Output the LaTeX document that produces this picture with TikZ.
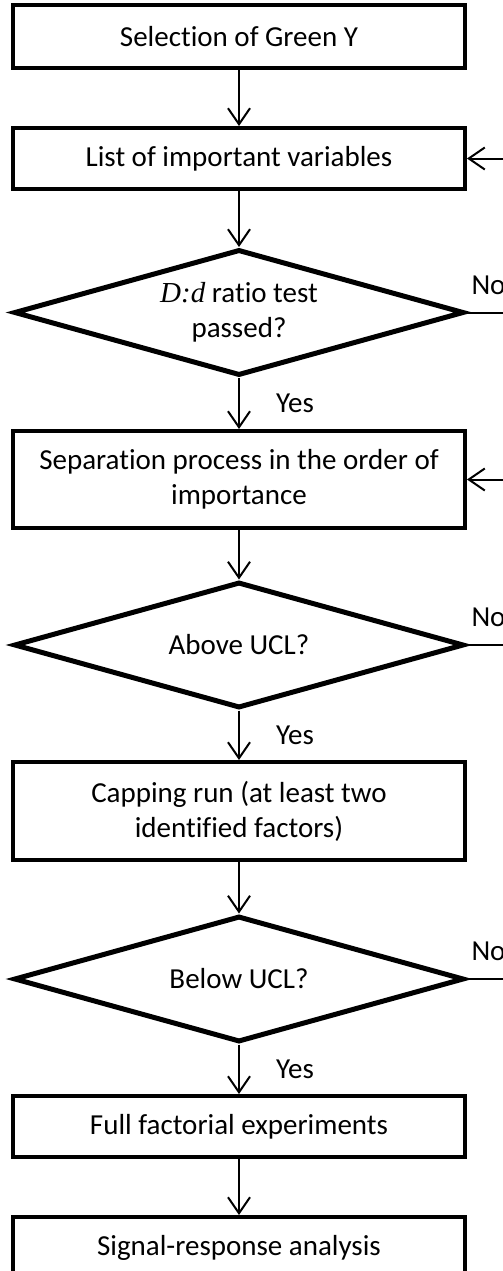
\documentclass[tikz,border=0pt]{standalone}
\usepackage{fontspec}
\setmainfont[Ligatures=NoCommon]{Carlito}
\newfontfamily\ratiofont{Liberation Serif}
\usetikzlibrary{shapes.geometric, arrows.meta, positioning}
\newcommand\flowsize{\fontsize{29}{35}\selectfont}

\begin{document}
\begin{tikzpicture}[x=1pt, y=-1pt,
    stepbox/.style={rectangle, draw, line width=4pt, minimum width=452pt, align=center, font=\flowsize},
    decision/.style={diamond, draw, line width=5pt, aspect=3.57, minimum width=450pt, minimum height=126pt, inner sep=0pt, align=center, font=\flowsize},
    flow/.style={line width=2pt, -{Straight Barb[length=16pt, width=22pt]}},
    back/.style={line width=2pt},
    answer/.style={inner sep=0pt, font=\flowsize}]

    \clip (0,0) rectangle (503,1271);

    % Steps and decisions, top to bottom
    \node[stepbox, minimum height=63pt] (select) at (239,36.5) {Selection of Green Y};
    \node[stepbox, minimum height=61pt] (varlist) at (239,158.5) {List of important variables};
    \node[decision] (ratio) at (239,312.5) {{\ratiofont\itshape D:d} ratio test\\passed?};
    \node[stepbox, minimum height=97pt] (separation) at (239,479.5) {Separation process in the order of\\importance};
    \node[decision] (above) at (239,645) {Above UCL?};
    \node[stepbox, minimum height=98pt] (capping) at (239,811) {Capping run (at least two\\identified factors)};
    \node[decision] (below) at (239,979) {Below UCL?};
    \node[stepbox, minimum height=61pt] (factorial) at (239,1126.5) {Full factorial experiments};
    \node[stepbox, minimum height=61pt] (signal) at (239,1247.5) {Signal-response analysis};

    % Loose ends on the right
    \coordinate (backa) at (510,158.5);
    \coordinate (backb) at (510,479.5);
    \coordinate (noa) at (510,312.5);
    \coordinate (nob) at (510,645);
    \coordinate (noc) at (510,979);

    % Main flow
    \draw[flow] (select) -- (varlist);
    \draw[flow] (varlist) -- (ratio);
    \draw[flow] (ratio) -- node[answer, right=36pt] (yesa) {Yes} (separation);
    \draw[flow] (separation) -- (above);
    \draw[flow] (above) -- node[answer, right=36pt] (yesb) {Yes} (capping);
    \draw[flow] (capping) -- (below);
    \draw[flow] (below) -- node[answer, right=36pt] (yesc) {Yes} (factorial);
    \draw[flow] (factorial) -- (signal);

    % No branches and returns
    \draw[back] (ratio.east) -- node[answer, pos=0, anchor=south west, xshift=4pt, yshift=17pt] (noa-lbl) {No} (noa);
    \draw[back] (above.east) -- node[answer, pos=0, anchor=south west, xshift=4pt, yshift=17pt] (nob-lbl) {No} (nob);
    \draw[back] (below.east) -- node[answer, pos=0, anchor=south west, xshift=4pt, yshift=17pt] (noc-lbl) {No} (noc);
    \draw[flow] (backa) -- (varlist);
    \draw[flow] (backb) -- (separation);

\end{tikzpicture}
\end{document}
